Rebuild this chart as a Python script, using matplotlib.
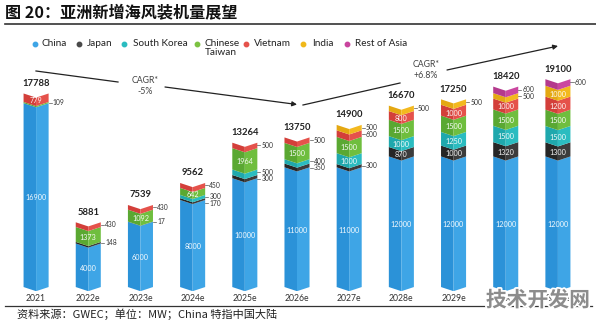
import matplotlib
matplotlib.use("Agg")
import matplotlib.pyplot as plt
from matplotlib.lines import Line2D
import matplotlib.patheffects as pe

# ---- data (MW) ----
years = ["2021", "2022e", "2023e", "2024e", "2025e", "2026e",
         "2027e", "2028e", "2029e", "2030e", "2031e"]
series_names = ["China", "Japan", "South Korea", "Chinese\nTaiwan",
                "Vietnam", "India", "Rest of Asia"]
china = [16900, 4000, 6000, 8000, 10000, 11000, 11000, 12000, 12000, 12000, 12000]
japan = [0, 148, 17, 170, 300, 350, 300, 870, 1000, 1320, 1300]
south_korea = [0, 0, 0, 300, 500, 400, 1000, 1000, 1250, 1500, 1500]
chinese_taiwan = [109, 1373, 1092, 642, 1964, 1500, 1500, 1500, 1500, 1500, 1500]
vietnam = [779, 430, 430, 450, 500, 500, 600, 800, 1000, 1000, 1200]
india = [0, 0, 0, 0, 0, 0, 500, 500, 500, 500, 1000]
rest_of_asia = [0, 0, 0, 0, 0, 0, 0, 0, 0, 600, 600]
totals = [17788, 5881, 7539, 9562, 13264, 13750, 14900, 16670, 17250, 18420, 19100]

series = [china, japan, south_korea, chinese_taiwan, vietnam, india, rest_of_asia]
# (left face, right face, legend dot)
colors = [
    ("#2b92d8", "#3ea5e6", "#3ea5e6"),
    ("#262626", "#3c3c3c", "#4a4a4a"),
    ("#1fa8ad", "#2bbcc0", "#2bbcc0"),
    ("#5aa832", "#6fbe3e", "#7cc242"),
    ("#d33f3a", "#e5524b", "#e5524b"),
    ("#e4a812", "#f3b91f", "#f0b81a"),
    ("#b43a8d", "#cb46a0", "#c9449e"),
]

LATIN = ["Lato", "DejaVu Sans"]
CJK = ["Noto Sans CJK SC", "DejaVu Sans"]

W, H = 596, 321
fig = plt.figure(figsize=(W / 100, H / 100), dpi=100)
ax = fig.add_axes([10 / W, (H - 291.4) / H, 574 / W, (291.4 - 30) / H])
ax.set_xlim(-0.5, len(years) - 0.5)
ax.set_ylim(-400, 23620)
for s in ax.spines.values():
    s.set_visible(False)
ax.set_yticks([])
ax.set_xticks(range(len(years)), years)
ax.tick_params(axis="x", length=0, pad=2, labelsize=6.2, labelcolor="#333333")
for lab in ax.get_xticklabels():
    lab.set_fontfamily(LATIN)

bw = 0.48      # bar width
dip = 380      # depth of the chevron fold
gap = 600      # minimum spacing between side labels

for i, x in enumerate(range(len(years))):
    bottom = 0
    side = []
    for k, vals in enumerate(series):
        v = vals[i]
        if v <= 0:
            continue
        y0, y1 = bottom, bottom + v
        cl, cr, _ = colors[k]
        ax.fill([x - bw / 2, x, x, x - bw / 2],
                [y0, y0 - dip, y1 - dip, y1], color=cl, lw=0)
        ax.fill([x, x + bw / 2, x + bw / 2, x],
                [y0 - dip, y0, y1, y1 - dip], color=cr, lw=0)
        if k == 0 or v >= 640:
            ax.text(x, (y0 + y1) / 2 - dip * 0.7, f"{v}", ha="center",
                    va="center", color="white", fontsize=5.2,
                    family=LATIN, alpha=0.95)
        else:
            side.append(((y0 + y1) / 2, v))
        bottom = y1

    # side labels with short leaders, stacked top-down
    prev = None
    for yc, v in sorted(side, key=lambda t: -t[0]):
        y = yc if prev is None else min(yc, prev - gap)
        prev = y
        ax.plot([x + bw / 2, x + bw / 2 + 0.06], [y, y], color="#555555", lw=0.5)
        ax.text(x + bw / 2 + 0.08, y, f"{v}", ha="left", va="center",
                fontsize=4.9, color="#333333", family=LATIN)

    ax.annotate(f"{totals[i]}", (x, bottom), xytext=(0, 4),
                textcoords="offset points", ha="center", va="bottom",
                fontsize=6.8, fontweight="bold", color="#222222", family=LATIN)

# ---- title and rules ----
def fy(y):
    return H - y

fig.text(5 / W, 1 - 13 / H, "图 20：亚洲新增海风装机量展望", ha="left",
         va="center", fontsize=11.6, fontweight="bold", family=CJK, color="#111111")
fig.add_artist(Line2D([5 / W, 1.0], [1 - 23.5 / H] * 2, color="#333333",
                      lw=1.2, transform=fig.transFigure))
fig.add_artist(Line2D([5 / W, 592 / W], [1 - 306 / H] * 2, color="#333333",
                      lw=0.9, transform=fig.transFigure))
fig.text(17 / W, 1 - 314.5 / H, "资料来源：GWEC；单位：MW；China 特指中国大陆",
         ha="left", va="center", fontsize=8, family=CJK, color="#222222")

# ---- legend ----
legend_pos = [(35, 42), (79, 87), (124, 133), (197, 205), (246, 254), (303, 312), (347, 355)]
for k, name in enumerate(series_names):
    dx, tx = legend_pos[k]
    fig.add_artist(Line2D([dx / W], [1 - 44 / H], marker="o", markersize=3.2,
                          color=colors[k][2], lw=0, transform=fig.transFigure))
    fig.text(tx / W, 1 - 38.5 / H, name, ha="left", va="top", fontsize=7.2,
             family=LATIN, color="#222222", linespacing=1.05)

# ---- CAGR annotations ----
line_kw = dict(color="#222222", lw=0.9)
fig.add_artist(Line2D([36 / W, 118 / W], [1 - 71 / H, 1 - 82 / H],
                      transform=fig.transFigure, **line_kw))
ax.annotate("", xy=(297, fy(104.5)), xytext=(165, fy(87)),
            xycoords="figure pixels", textcoords="figure pixels",
            arrowprops=dict(arrowstyle="-|>", color="#222222", lw=0.9,
                            mutation_scale=7, shrinkA=0, shrinkB=0))
fig.text(145 / W, 1 - 86 / H, "CAGR*\n-5%", ha="center", va="center",
         fontsize=6.3, family=LATIN, color="#444444", linespacing=1.2)

fig.add_artist(Line2D([303 / W, 400 / W], [1 - 105 / H, 1 - 83 / H],
                      transform=fig.transFigure, **line_kw))
ax.annotate("", xy=(558, fy(46)), xytext=(447, fy(70)),
            xycoords="figure pixels", textcoords="figure pixels",
            arrowprops=dict(arrowstyle="-|>", color="#222222", lw=0.9,
                            mutation_scale=7, shrinkA=0, shrinkB=0))
fig.text(426 / W, 1 - 70 / H, "CAGR*\n+6.8%", ha="center", va="center",
         fontsize=6.3, family=LATIN, color="#444444", linespacing=1.2)

# ---- site mark ----
fig.text(538 / W, 1 - 300 / H, "技术开发网", ha="center", va="center",
         fontsize=15, fontweight="bold", family=CJK, color="#8c8c8c",
         path_effects=[pe.withStroke(linewidth=2.5, foreground="white")])

fig.savefig("out.png", dpi=100)
